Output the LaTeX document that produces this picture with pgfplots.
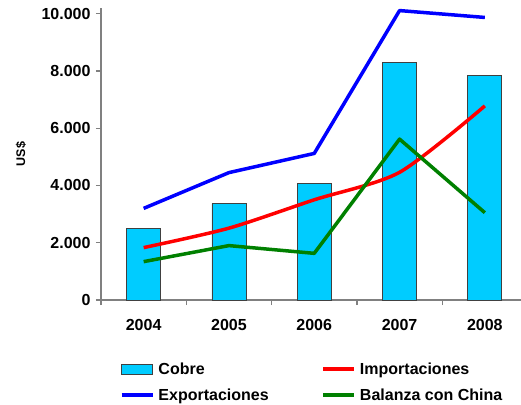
\documentclass[border=0pt]{standalone}
\usepackage{fontspec}
\setmainfont{Liberation Sans}
\usepackage{pgfplots}
\pgfplotsset{compat=1.18}

\definecolor{cobre}{HTML}{00CCFF}
\definecolor{expo}{HTML}{0000FF}
\definecolor{impo}{HTML}{FF0000}
\definecolor{balanza}{HTML}{008000}
\definecolor{axisgray}{HTML}{808080}

\begin{document}
\fontsize{16bp}{19bp}\selectfont
\begin{tikzpicture}
\begin{axis}[
    name=ax,
    scale only axis,
    width=426.5bp, height=292bp,
    xmin=-0.5, xmax=4.5,
    ymin=0, ymax=10200,
    clip=false,
    axis x line*=bottom,
    axis y line*=left,
    axis line style={draw=axisgray, line width=1.3bp},
    tick style={draw=axisgray, line width=1.3bp},
    tick align=outside,
    major tick length=5bp,
    ytick={0,2000,4000,6000,8000,10000},
    yticklabels={0,2.000,4.000,6.000,8.000,10.000},
    yticklabel style={font=\bfseries, inner sep=0pt, xshift=-5.3bp},
    xtick={-0.5,0.5,1.5,2.5,3.5},
    xticklabels={},
    extra x ticks={0,1,2,3,4},
    extra x tick labels={2004,2005,2006,2007,2008},
    extra x tick style={major tick length=0pt,
        xticklabel style={font=\bfseries, inner sep=0pt, anchor=north, yshift=-19bp}},
    ylabel={\fontsize{12.5bp}{14bp}\selectfont\bfseries US\$},
    ylabel style={at={(axis description cs:-0.1876,0.5)}, anchor=center},
    legend columns=2,
    legend cell align=left,
    legend style={at={(axis description cs:0.0445,-0.2166)}, anchor=north west,
        draw=none, fill=none, inner sep=0pt, outer sep=0pt,
        column sep=4bp, row sep=14.5bp, font=\bfseries,
        nodes={inner sep=0pt, text height=11.5bp, text depth=0pt}},
]

% Cobre (bars)
\addplot[ybar, bar width=34bp, fill=cobre, draw=black!75, line width=0.8bp,
    legend image code/.code={\draw[fill=cobre, draw=black!75, line width=0.8bp] (0bp,-5bp) rectangle (31bp,5bp);}]
coordinates {(0,2510) (1,3370) (2,4060) (3,8290) (4,7830)};
\addlegendentry{\makebox[159bp][l]{Cobre}}

% Importaciones
\addplot[impo, line width=3.5bp, smooth, tension=0.45,
    legend image code/.code={\draw[impo, line width=3.5bp] (0bp,0bp) -- (31bp,0bp);}]
coordinates {(0,1830) (1,2510) (2,3500) (3,4460) (4,6780)};
\addlegendentry{Importaciones}

% Exportaciones
\addplot[expo, line width=3.5bp, line join=round,
    legend image code/.code={\draw[expo, line width=3.5bp] (0bp,0bp) -- (31bp,0bp);}]
coordinates {(0,3200) (1,4450) (2,5120) (3,10110) (4,9870)};
\addlegendentry{\makebox[159bp][l]{Exportaciones}}

% Balanza con China
\addplot[balanza, line width=3.5bp, line join=round,
    legend image code/.code={\draw[balanza, line width=3.5bp] (0bp,0bp) -- (31bp,0bp);}]
coordinates {(0,1340) (1,1900) (2,1630) (3,5620) (4,3050)};
\addlegendentry{Balanza con China}

\end{axis}
\pgfresetboundingbox
\path[use as bounding box] ([xshift=-101bp,yshift=-105bp]ax.south west) rectangle ++(521bp,405bp);
\end{tikzpicture}
\end{document}
